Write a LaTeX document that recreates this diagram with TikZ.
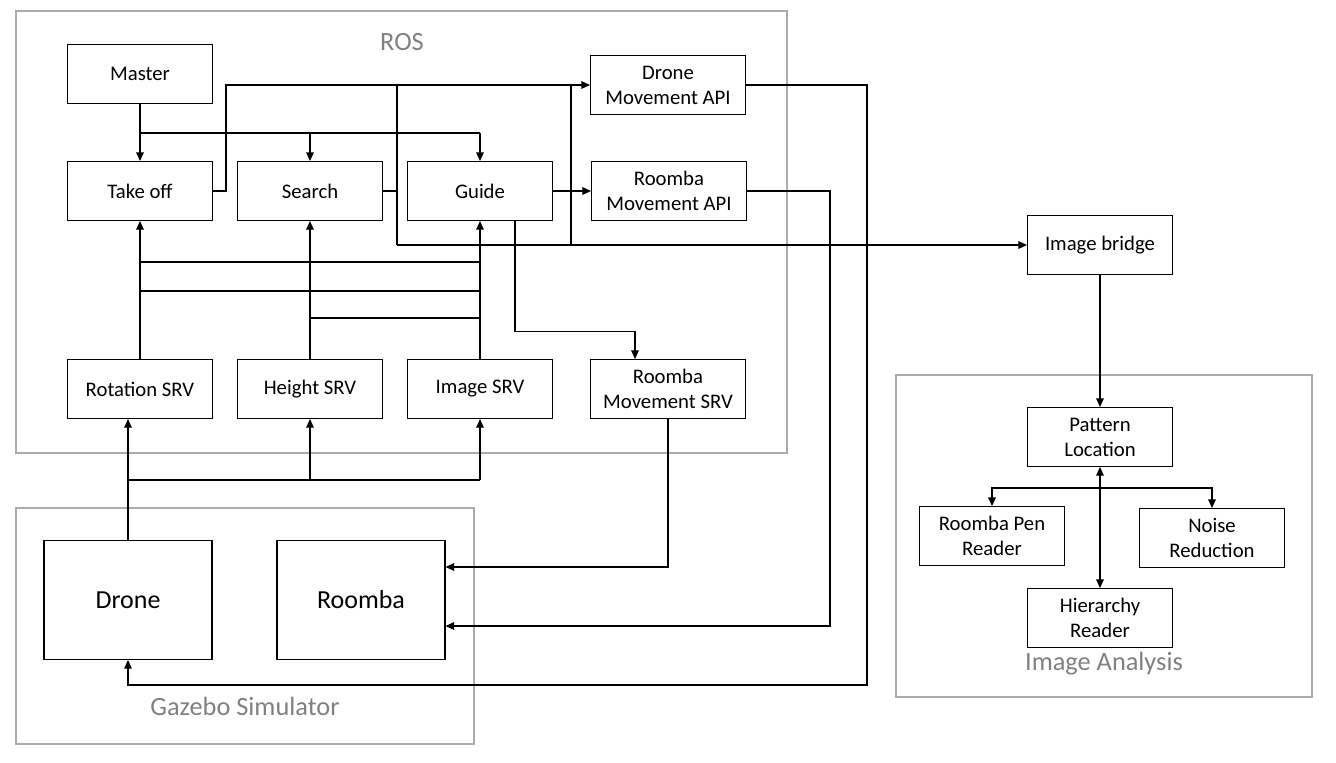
\documentclass[tikz,border=0pt]{standalone}
\usepackage{fontspec}
\setmainfont{Carlito}
\usetikzlibrary{calc, arrows.meta}
\colorlet{GroupFrame}{black!33}
\colorlet{GroupText}{black!50}
\tikzset{
    block/.style={
        draw, line width=0.6pt, inner sep=0pt, align=center,
        minimum width=2.9cm, minimum height=1.18cm,
        font=\fontsize{11.8pt}{14.2pt}\selectfont
    },
    big block/.style={
        block, minimum width=3.36cm, minimum height=2.38cm,
        font=\fontsize{14.8pt}{17pt}\selectfont
    },
    group box/.style={draw=GroupFrame, line width=0.6pt},
    group label/.style={text=GroupText, font=\fontsize{15pt}{18pt}\selectfont},
    link/.style={line width=0.6pt, -{Triangle[length=0.17cm, width=0.15cm]}},
    bus/.style={line width=0.6pt}
}

\begin{document}
\begin{tikzpicture}[x=0.02cm, y=-0.02cm]

\useasboundingbox (0,0) rectangle (1336,762);

% Grupos.
\draw[group box] (16,11) rectangle (787,453);
\draw[group box] (16,508) rectangle (474,744);
\draw[group box] (896,375) rectangle (1312,697);
\node[group label] (roslabel) at (402,42) {ROS};
\node[group label] (gazebolabel) at (245,706) {Gazebo Simulator};
\node[group label] (analysislabel) at (1104,664) {Image Analysis};

% Nodos de ROS.
\node[block] (master) at (140,74) {Master};
\node[block] (takeoff) at (140,191) {Take off};
\node[block] (search) at (310,191) {Search};
\node[block] (guide) at (480,191) {Guide};
\node[block, minimum width=3.1cm] (droneapi) at (668,85) {Drone\\Movement API};
\node[block, minimum width=3.1cm] (roombaapi) at (669,191) {Roomba\\Movement API};
\node[block] (rotsrv) at (140,389) {Rotation SRV};
\node[block] (heightsrv) at (310,389) {Height SRV};
\node[block] (imgsrv) at (480,389) {Image SRV};
\node[block, minimum width=3.1cm] (roombasrv) at (668,389) {Roomba\\Movement SRV};

% Simulador.
\node[big block] (drone) at (128,600) {Drone};
\node[big block] (roomba) at (361,600) {Roomba};

% Analisis de imagen.
\node[block] (imgbridge) at (1100,245) {Image bridge};
\node[block] (pattern) at (1100,437) {Pattern\\Location};
\node[block] (penreader) at (992,536) {Roomba Pen\\Reader};
\node[block] (noise) at (1212,538) {Noise\\Reduction};
\node[block] (hierarchy) at (1100,618) {Hierarchy\\Reader};

% Master hacia los nodos de control.
\coordinate (mbus) at (140,133);
\draw[link] (master) -- (takeoff);
\draw[bus] (mbus) -- (mbus -| guide.north);
\draw[link] (mbus -| search.north) -- (search);
\draw[link] (mbus -| guide.north) -- (guide);

% Salidas de los nodos de control.
\draw[link] (takeoff.east) -- ++(13,0) |- (droneapi.west);
\coordinate (sbus) at ($(search.east)+(14,0)$);
\draw[bus] (search.east) -- (sbus);
\draw[bus] (sbus |- droneapi.west) -- (sbus |- imgbridge.west);
\draw[link] (sbus |- imgbridge.west) -- (imgbridge.west);
\coordinate (tap) at (571,85);
\draw[bus] (tap) -- (tap |- imgbridge.west);
\draw[link] (guide) -- (roombaapi);
\draw[link] ($(guide.south)+(35,0)$) -- ++(0,110) -| ($(roombasrv.north)+(-33,0)$);

% Servicios hacia los nodos de control.
\draw[link] (rotsrv) -- (takeoff);
\draw[link] (heightsrv) -- (search);
\draw[link] (imgsrv) -- (guide);
\draw[bus] (140,262) -- (480,262);
\draw[bus] (140,291) -- (480,291);
\draw[bus] (310,318) -- (480,318);

% Drone hacia los servicios.
\coordinate (dbus) at (128,480);
\draw[bus] (drone.north) -- (dbus) -- (dbus -| imgsrv.south);
\draw[link] (dbus) -- (dbus |- rotsrv.south);
\draw[link] (dbus -| heightsrv.south) -- (heightsrv.south);
\draw[link] (dbus -| imgsrv.south) -- (imgsrv.south);

% APIs y servicio hacia el simulador.
\draw[link] (roombasrv.south) |- ($(roomba.east)+(0,-33)$);
\draw[link] (roombaapi.east) -- ++(83,0) |- ($(roomba.east)+(0,26)$);
\draw[link] (droneapi.east) -- ++(121,0) -- ++(0,600) -| (drone.south);

% Analisis de imagen.
\coordinate (pbus) at (1100,488);
\draw[link] (imgbridge) -- (pattern);
\draw[link, {Triangle[length=0.17cm, width=0.15cm]}-{Triangle[length=0.17cm, width=0.15cm]}] (pattern) -- (hierarchy);
\draw[link] (pbus) -| (penreader);
\draw[link] (pbus) -| (noise);

\end{tikzpicture}
\end{document}
